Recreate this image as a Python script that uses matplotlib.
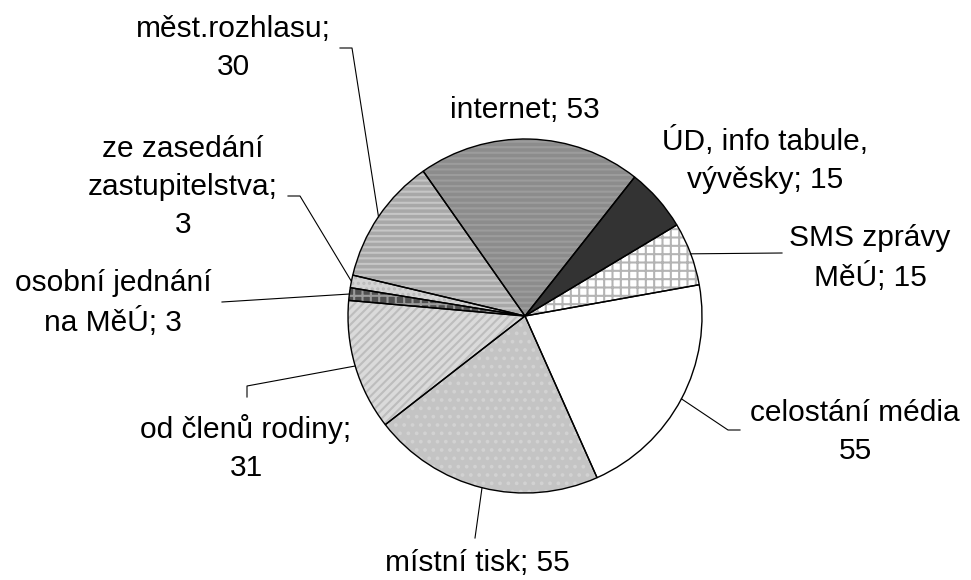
import numpy as np
import matplotlib
matplotlib.use('Agg')
import matplotlib.pyplot as plt
from matplotlib.patches import Wedge

plt.rcParams['font.family'] = ['Liberation Sans', 'DejaVu Sans']
plt.rcParams['hatch.linewidth'] = 1.5

# Data (clockwise, starting from "internet")
labels = ['internet; 53', 'ÚD, info tabule,\nvývěsky; 15', 'SMS zprávy\nMěÚ; 15',
          'celostání média\n55', 'místní tisk; 55', 'od členů rodiny;\n31',
          'osobní jednání\nna MěÚ; 3', 'ze zasedání\nzastupitelstva;\n3',
          'měst.rozhlasu;\n30']
values = [53, 15, 15, 55, 55, 31, 3, 3, 30]

# Styles
face_colors = ['#8c8c8c', '#333333', '#ffffff', '#ffffff', '#c4c4c4',
               '#dadada', '#505050', '#d4d4d4', '#a8a8a8']
hatches = ['---', None, '++', None, '..', '////', '++', '...', '---']
hatch_colors = ['#9c9c9c', '#333333', '#b4b4b4', '#ffffff', '#d2d2d2',
                '#bdbdbd', '#9a9a9a', '#bcbcbc', '#c6c6c6']

# Layout in pixels (top-left origin)
W, H = 971, 580
cx, cy, R = 525, 316, 177
start = 125.1

label_pos = [(525, 110), (765, 160), (870, 258), (855, 432), (477, 563),
             (246, 448), (113, 303), (183, 187), (233, 48)]
# leader line points from the label side (None = no leader)
leaders = [None, None, [(782, 253)], [(740, 430), (728, 430)], [(475, 538)],
           [(247, 397), (247, 386)], [(222, 302)], [(288, 196), (300, 196)],
           [(340, 48), (352, 48)]]

fig = plt.figure(figsize=(W / 100, H / 100), dpi=100)
ax = fig.add_axes([0, 0, 1, 1])

center = (cx, H - cy)
wedges, _ = ax.pie(values, startangle=start, counterclock=False, radius=R,
                   center=center, frame=True,
                   wedgeprops=dict(linewidth=0))
for w, fc, hc, h in zip(wedges, face_colors, hatch_colors, hatches):
    w.set_facecolor(fc)
    w.set_edgecolor(hc)
    if h:
        w.set_hatch(h)
    # outline
    ax.add_patch(Wedge(center, R, w.theta1, w.theta2, facecolor='none',
                       edgecolor='black', linewidth=1.0, zorder=3))

ax.set_xlim(0, W)
ax.set_ylim(0, H)
ax.set_aspect('equal')
ax.axis('off')

for w, lab, (lx, ly), pts in zip(wedges, labels, label_pos, leaders):
    ax.text(lx, H - ly, lab, ha='center', va='center', fontsize=21.5,
            linespacing=1.45, zorder=5)
    if pts:
        mid = np.deg2rad((w.theta1 + w.theta2) / 2)
        ex, ey = center[0] + R * np.cos(mid), center[1] + R * np.sin(mid)
        xs = [p[0] for p in pts] + [ex]
        ys = [H - p[1] for p in pts] + [ey]
        ax.plot(xs, ys, color='black', linewidth=0.8, zorder=4)

fig.savefig('out.png', dpi=100, facecolor='white')
